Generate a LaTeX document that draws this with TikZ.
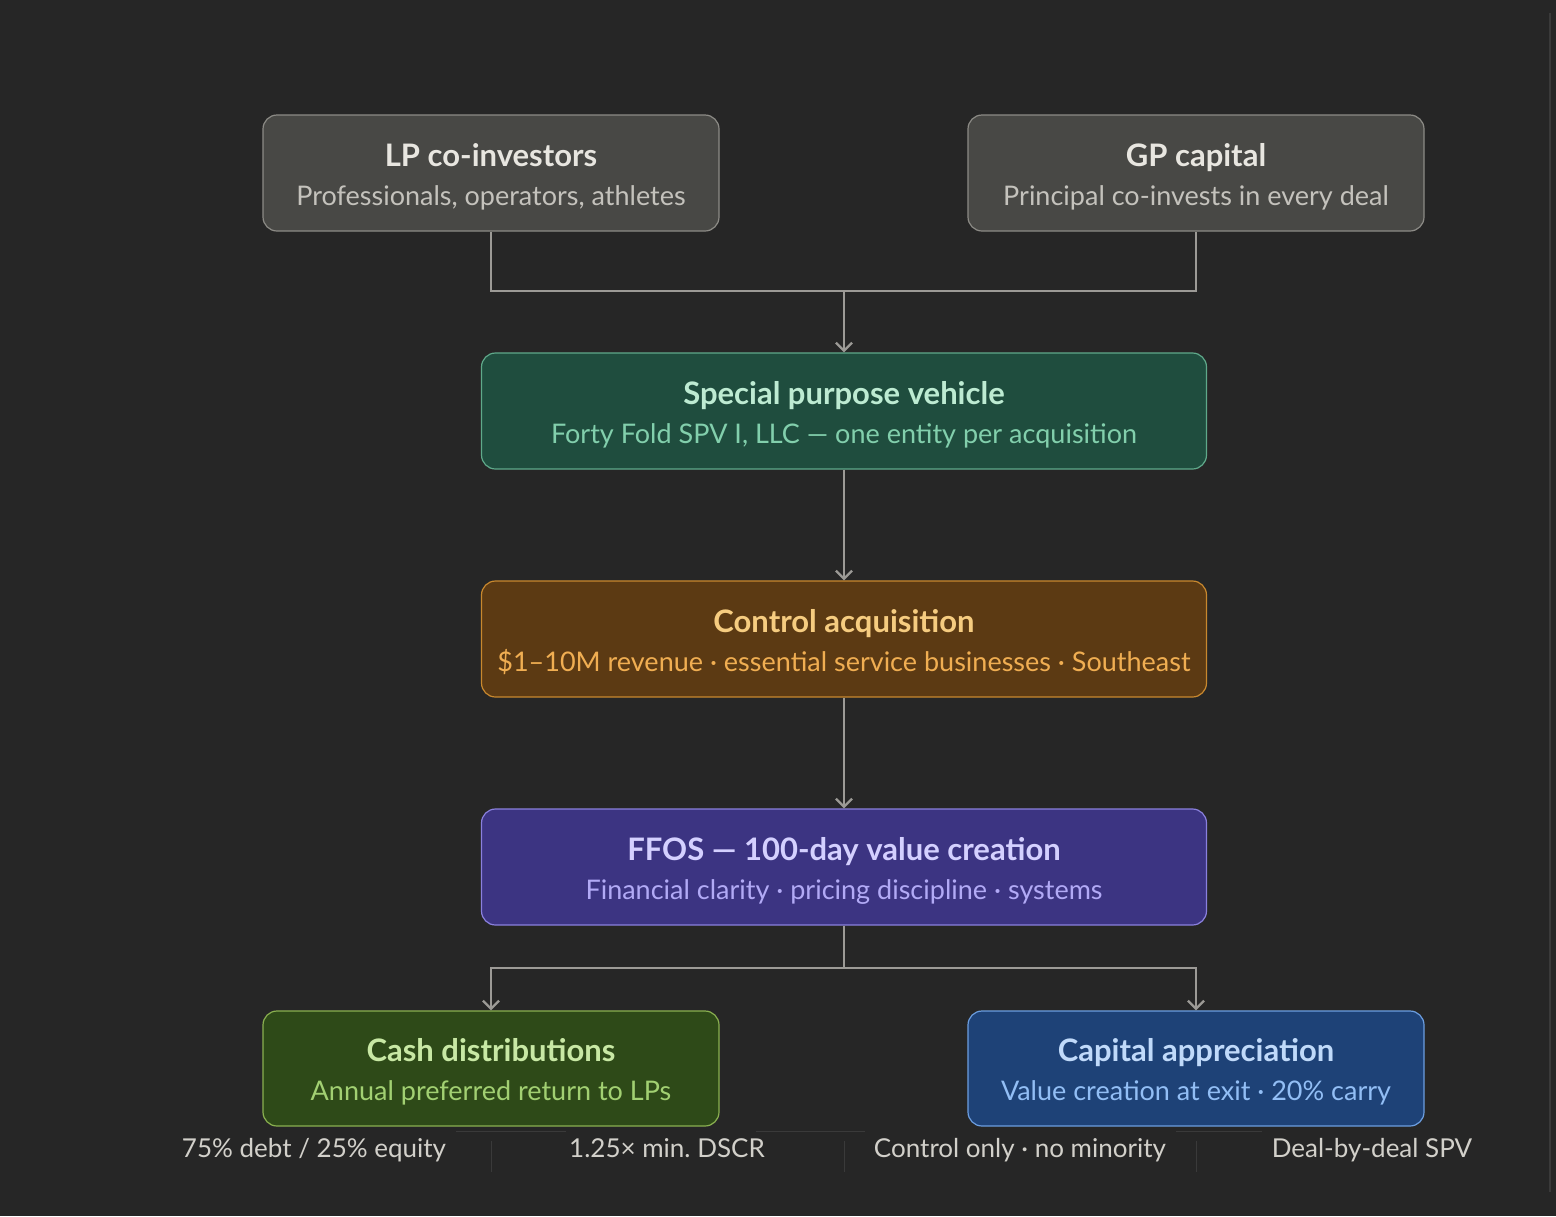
\documentclass[tikz,border=0pt]{standalone}
\usepackage{fontspec}
\setmainfont{Lato}
\usetikzlibrary{arrows.meta}
\definecolor{bgcol}{HTML}{262626}
\definecolor{wirecol}{HTML}{9C9A96}
\definecolor{rulecol}{HTML}{3A3A3A}
\definecolor{statcol}{HTML}{D2D0CA}
% box colours: fill, border, title, subtitle
\definecolor{lpfill}{HTML}{484845}\definecolor{lpdraw}{HTML}{8C8B86}
\definecolor{lptitle}{HTML}{E8E6E0}\definecolor{lpsub}{HTML}{C4C2BC}
\definecolor{spvfill}{HTML}{1F4D3E}\definecolor{spvdraw}{HTML}{5FA98A}
\definecolor{spvtitle}{HTML}{BDEBD2}\definecolor{spvsub}{HTML}{82CFAC}
\definecolor{acqfill}{HTML}{5C3A13}\definecolor{acqdraw}{HTML}{C8882E}
\definecolor{acqtitle}{HTML}{F6CC80}\definecolor{acqsub}{HTML}{F0AE52}
\definecolor{osfill}{HTML}{3C3482}\definecolor{osdraw}{HTML}{8A80DE}
\definecolor{ostitle}{HTML}{D4D0FF}\definecolor{ossub}{HTML}{B2AAF6}
\definecolor{cashfill}{HTML}{2E4A18}\definecolor{cashdraw}{HTML}{8AB050}
\definecolor{cashtitle}{HTML}{C8E8A4}\definecolor{cashsub}{HTML}{A2D072}
\definecolor{capfill}{HTML}{1E4277}\definecolor{capdraw}{HTML}{6C9EE0}
\definecolor{captitle}{HTML}{C0DAFA}\definecolor{capsub}{HTML}{92BEF5}
\newcommand{\cardtext}[4]{{\color{#1}\fontsize{31}{39}\selectfont\bfseries\rule{0pt}{30pt}#3}\\{\color{#2}\fontsize{27}{39}\selectfont #4}}
\tikzset{
  card/.style={rounded corners=14pt, line width=1.2pt, minimum height=116pt,
    align=center, inner sep=0pt, font=\fontsize{27}{39}\selectfont},
  widecard/.style={card, minimum width=725pt},
  sidecard/.style={card, minimum width=456pt},
  wire/.style={draw=wirecol, line width=2.4pt},
  arrow/.style={wire, -{Straight Barb[length=8pt,width=16pt,line width=2.4pt]}},
  stat/.style={text=statcol, font=\fontsize{26}{30}\selectfont, inner sep=0pt, anchor=base},
}

\begin{document}
\begin{tikzpicture}[x=1pt, y=-1pt]
        \fill[bgcol] (0,0) rectangle (1556,1216);
        \useasboundingbox (0,0) rectangle (1556,1216);
        \draw[rulecol, line width=1.5pt] (1550,13) -- (1550,1192);
        % sources
        \node[sidecard, fill=lpfill, draw=lpdraw] (lp) at (491,173)
            {\cardtext{lptitle}{lpsub}{LP co-investors}{Professionals, operators, athletes}};
        \node[sidecard, fill=lpfill, draw=lpdraw] (gp) at (1196,173)
            {\cardtext{lptitle}{lpsub}{GP capital}{Principal co-invests in every deal}};
        % main chain
        \node[widecard, fill=spvfill, draw=spvdraw] (spv) at (844,411)
            {\cardtext{spvtitle}{spvsub}{Special purpose vehicle}{Forty Fold SPV I, LLC — one entity per acquisition}};
        \node[widecard, fill=acqfill, draw=acqdraw] (acq) at (844,639)
            {\cardtext{acqtitle}{acqsub}{Control acquisition}{\$1–10M revenue · essential service businesses · Southeast}};
        \node[widecard, fill=osfill, draw=osdraw] (ffos) at (844,867)
            {\cardtext{ostitle}{ossub}{FFOS — 100-day value creation}{Financial clarity · pricing discipline · systems}};
        % returns
        \node[sidecard, fill=cashfill, draw=cashdraw, minimum height=115pt] (cash) at (491,1068.5)
            {\cardtext{cashtitle}{cashsub}{Cash distributions}{Annual preferred return to LPs}};
        \node[sidecard, fill=capfill, draw=capdraw, minimum height=115pt] (capital) at (1196,1068.5)
            {\cardtext{captitle}{capsub}{Capital appreciation}{Value creation at exit · 20\% carry}};
        % connectors
        \coordinate (merge) at (844,291);
        \coordinate (split) at (844,968);
        \draw[wire] (lp.south) |- (merge) -| (gp.south);
        \draw[arrow] (merge) -- (spv.north);
        \draw[arrow] (spv.south) -- (acq.north);
        \draw[arrow] (acq.south) -- (ffos.north);
        \draw[wire] (ffos.south) -- (split);
        \draw[arrow] (split) -| (cash.north);
        \draw[arrow] (split) -| (capital.north);
        % terms row
        \node[stat] (debt) at (314,1157) {75\% debt / 25\% equity};
        \node[stat] (dscr) at (667,1157) {1.25× min.\ DSCR};
        \node[stat] (ctrl) at (1020,1157) {Control only · no minority};
        \node[stat] (deal) at (1372,1157) {Deal-by-deal SPV};
        \foreach \x in {491,844,1196}
            \draw[rulecol, line width=1pt] (\x,1141) -- (\x,1172);
        \draw[rulecol, line width=1pt] (456,1131) -- (566,1131);
        \draw[rulecol, line width=1pt] (756,1131) -- (865,1131);
        \draw[rulecol, line width=1pt] (1176,1131) -- (1262,1131);
    \end{tikzpicture}
\end{document}
